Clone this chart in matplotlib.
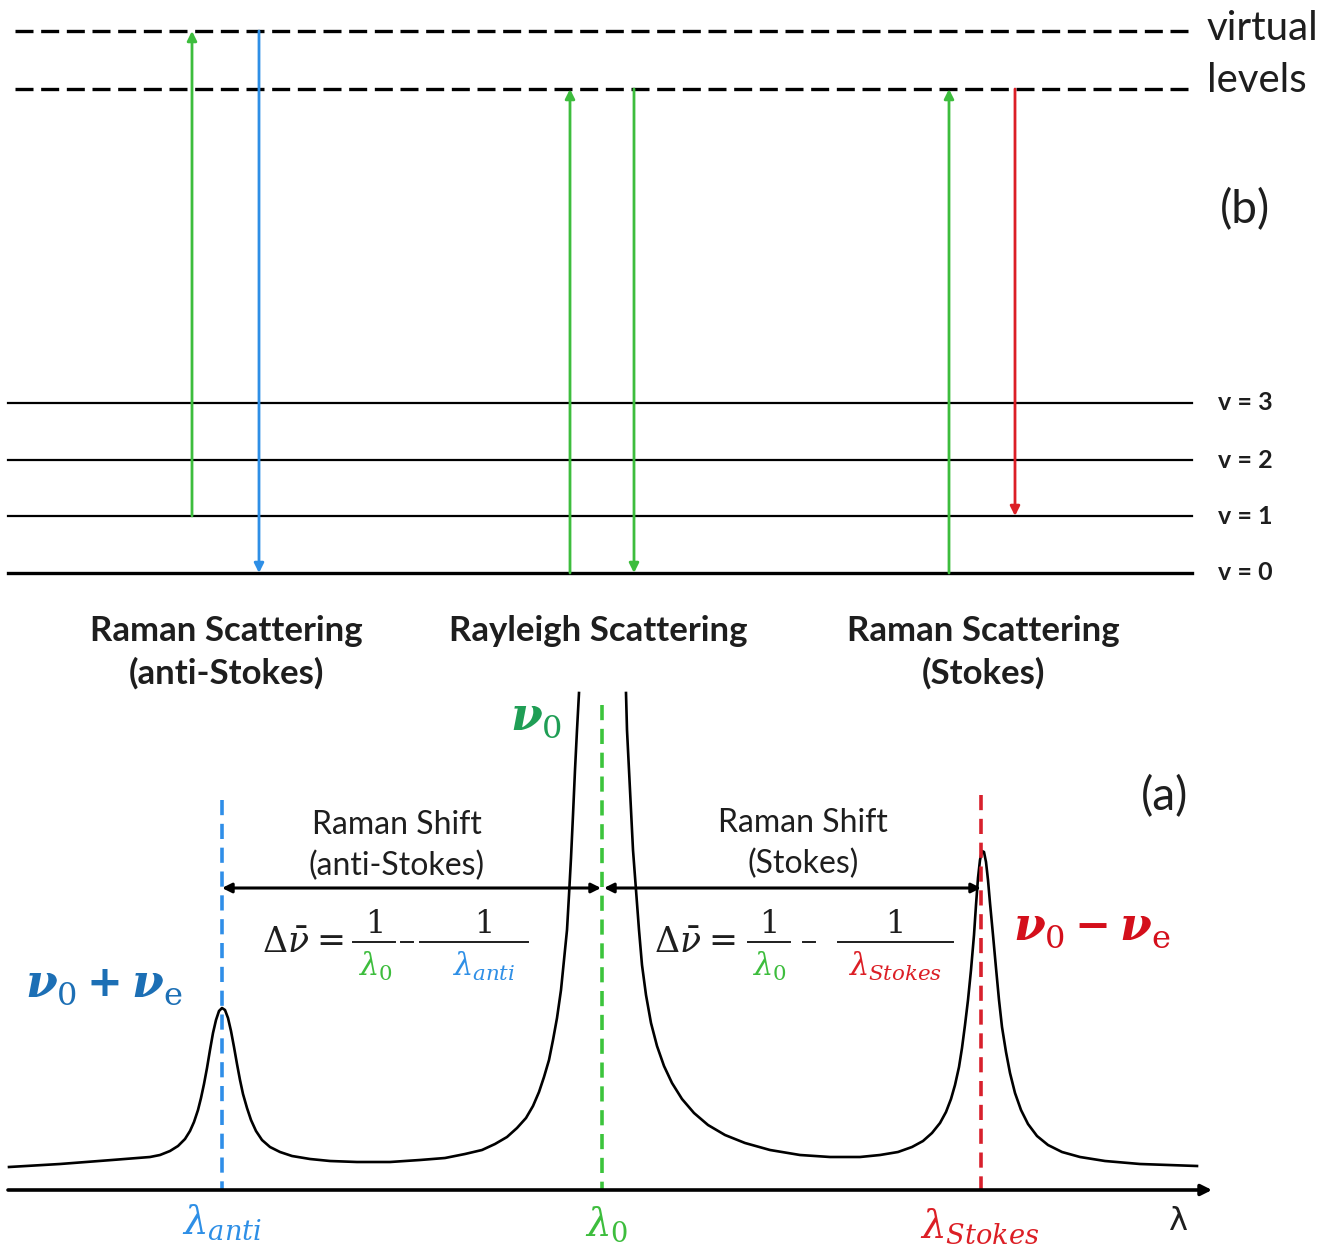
import matplotlib
matplotlib.use("Agg")
import matplotlib.pyplot as plt

# ---------------- data ----------------
virtual_level_y = [31, 89]
virtual_labels = ["virtual", "levels"]
vib_labels = ["v = 0", "v = 1", "v = 2", "v = 3"]
vib_level_y = [573, 516, 460, 403]

# transitions: (x, y_start, y_end, colour key)
transition_x = [192, 259, 570, 634, 949, 1015]
transition_y0 = [516, 31, 573, 89, 573, 89]
transition_y1 = [31, 573, 89, 573, 89, 516]
transition_col = ["green", "blue", "green", "green", "green", "red"]

scatter_titles = [["Raman Scattering", "(anti-Stokes)"], ["Rayleigh Scattering"],
                  ["Raman Scattering", "(Stokes)"]]
scatter_title_x = [226, 598, 983]

# spectrum curve, left of Rayleigh peak and right of it
spec_left_x = [9, 60, 112, 150, 160, 170, 178, 185, 190, 194, 198, 201, 204, 207, 210, 213, 216,
               219, 222, 225, 228, 231, 234, 237, 240, 243, 247, 251, 256, 262, 270, 280, 292, 310,
               330, 357, 390, 420, 445, 465, 482, 495, 507, 517, 526, 533, 539, 544, 549, 553, 557,
               561, 564, 567, 569, 571, 573, 575, 577, 579]
spec_left_y = [1167, 1164, 1160, 1157, 1155, 1151, 1146, 1139, 1131, 1122, 1110, 1098, 1084, 1068,
               1050, 1033, 1020, 1011, 1008, 1010, 1018, 1031, 1047, 1064, 1080, 1094, 1108, 1120,
               1131, 1140, 1147, 1152, 1156, 1159, 1161, 1162, 1162, 1160, 1158, 1154, 1150, 1144,
               1137, 1128, 1118, 1106, 1092, 1077, 1060, 1040, 1018, 990, 960, 930, 895, 858, 815,
               770, 730, 693]
spec_right_x = [626, 627, 629, 631, 633, 636, 639, 642, 646, 651, 657, 664, 672, 682, 694, 708, 725,
                745, 770, 800, 830, 860, 880, 898, 912, 923, 932, 940, 946, 951, 955, 959, 962, 965,
                968, 971, 974, 976, 978, 980, 982, 984, 986, 988, 990, 993, 996, 999, 1002, 1006,
                1010, 1015, 1021, 1028, 1037, 1048, 1062, 1080, 1105, 1140, 1197]
spec_right_y = [693, 730, 770, 810, 850, 890, 930, 965, 995, 1023, 1046, 1066, 1083, 1099, 1113,
                1125, 1135, 1143, 1150, 1155, 1157, 1157, 1155, 1152, 1147, 1141, 1133, 1123, 1112,
                1099, 1085, 1067, 1048, 1025, 1000, 970, 935, 905, 878, 860, 851, 852, 862, 880,
                903, 935, 968, 1000, 1027, 1052, 1073, 1093, 1110, 1124, 1136, 1145, 1152, 1157,
                1161, 1164, 1166]

peak_x = [222, 602, 981]          # lambda_anti, lambda_0, lambda_Stokes
peak_line_top = [800, 705, 795]
peak_keys = ["blue", "green", "red"]
axis_y = 1190

C = {"green": "#3dbd3d", "blue": "#2e8fe6", "red": "#dc1f26"}
C_dash = {"green": "#3cc43c", "blue": "#2f8ee8", "red": "#d8202c"}
INK = "#1e1e1e"

# ---------------- figure ----------------
plt.rcParams["mathtext.fontset"] = "dejavuserif"
fig = plt.figure(figsize=(13.26, 12.48), dpi=100)
ax = fig.add_axes([0, 0, 1, 1])
ax.set_xlim(0, 1326)
ax.set_ylim(1248, 0)
ax.axis("off")
renderer = fig.canvas.get_renderer()

SANS = ["Lato", "DejaVu Sans"]

# virtual levels
for y, lab in zip(virtual_level_y, virtual_labels):
    ax.plot([15, 1190], [y, y], color="black", lw=2.4, dashes=(5.4, 2.3), solid_capstyle="butt")
    ax.text(1207, y - 2 if lab == "virtual" else y - 8, lab, fontsize=29, family=SANS,
            va="center", ha="left", color=INK)

# vibrational levels
for lab, y in zip(vib_labels, vib_level_y):
    ax.plot([8, 1192], [y, y], color="black", lw=2.4 if lab == "v = 0" else 1.6)
    ax.text(1218, y, lab, fontsize=18, family=SANS, weight="bold", va="center", ha="left",
            color=INK)

# transitions
for x, y0, y1, ck in zip(transition_x, transition_y0, transition_y1, transition_col):
    ax.annotate("", xy=(x, y1), xytext=(x, y0),
                arrowprops=dict(arrowstyle="-|>", color=C[ck], lw=2.0, mutation_scale=14,
                                shrinkA=0, shrinkB=0))

ax.text(1245, 210, "(b)", fontsize=33, family=SANS, ha="center", va="center", color=INK)

for lines, x in zip(scatter_titles, scatter_title_x):
    for i, t in enumerate(lines):
        ax.text(x, 631 + 42 * i, t, fontsize=25, family=SANS, weight="bold", ha="center",
                va="center", color=INK)

# ---------------- spectrum ----------------
ax.plot(spec_left_x, spec_left_y, color="black", lw=1.9, solid_joinstyle="round")
ax.plot(spec_right_x, spec_right_y, color="black", lw=1.9, solid_joinstyle="round")

for x, ytop, ck in zip(peak_x, peak_line_top, peak_keys):
    ax.plot([x, x], [ytop, axis_y], color=C_dash[ck], lw=2.6, dashes=(4.2, 2.4))

# wavelength axis
ax.annotate("", xy=(1212, axis_y), xytext=(8, axis_y),
            arrowprops=dict(arrowstyle="-|>", color="black", lw=2.6, mutation_scale=16,
                            shrinkA=0, shrinkB=0))
ax.text(1178, 1222, "λ", fontsize=23, family=["DejaVu Sans"], ha="center", va="center",
        color=INK)

# Raman shift double arrows
ax.annotate("", xy=(601, 888), xytext=(222, 888),
            arrowprops=dict(arrowstyle="<|-|>", color="black", lw=2.2, mutation_scale=14,
                            shrinkA=0, shrinkB=0))
ax.annotate("", xy=(981, 888), xytext=(604, 888),
            arrowprops=dict(arrowstyle="<|-|>", color="black", lw=2.2, mutation_scale=14,
                            shrinkA=0, shrinkB=0))
ax.text(397, 825, "Raman Shift", fontsize=23, family=SANS, ha="center", va="center", color=INK)
ax.text(397, 866, "(anti-Stokes)", fontsize=23, family=SANS, ha="center", va="center", color=INK)
ax.text(803, 823, "Raman Shift", fontsize=23, family=SANS, ha="center", va="center", color=INK)
ax.text(803, 864, "(Stokes)", fontsize=23, family=SANS, ha="center", va="center", color=INK)
ax.text(1165, 797, "(a)", fontsize=33, family=SANS, ha="center", va="center", color=INK)

# equations
def equation(x_eq, eq_x, n1x, bar1, mx, n2x, bar2, den2, den2_col):
    ax.text(x_eq, 943, r"$\Delta\bar{\nu}$", fontsize=25, ha="left", va="center", color=INK)
    ax.text(eq_x, 941, "=", fontsize=25, family=["DejaVu Serif"], ha="center", va="center",
            color=INK)
    ax.plot(bar1, [942, 942], color=INK, lw=1.4)
    ax.plot(bar2, [942, 942], color=INK, lw=1.4)
    ax.plot([mx - 6, mx + 6], [942, 942], color=INK, lw=1.4)
    ax.text(n1x, 933, "1", fontsize=23, family=["DejaVu Serif"], ha="center", va="baseline",
            color=INK)
    ax.text(n2x, 933, "1", fontsize=23, family=["DejaVu Serif"], ha="center", va="baseline",
            color=INK)
    ax.text(n1x, 966, r"$\lambda_0$", fontsize=22, ha="center", va="center", color=C["green"])
    ax.text(n2x, 966, den2, fontsize=22, ha="center", va="center", color=den2_col)

equation(262, 331, 375, [353, 395], 407, 484, [420, 528], r"$\lambda_{anti}$", C["blue"])
equation(654, 723, 769, [748, 790], 809, 895, [838, 953], r"$\lambda_{Stokes}$", C["red"])

# wavelength labels under axis
ax.text(222, 1222, r"$\lambda_{anti}$", fontsize=28, ha="center", va="center", color=C["blue"])
ax.text(607, 1224, r"$\lambda_0$", fontsize=28, ha="center", va="center", color=C["green"])
ax.text(980, 1226, r"$\lambda_{Stokes}$", fontsize=28, ha="center", va="center", color=C["red"])

# frequency labels (bold italic nu with upright subscripts)
def nu_label(x, y, pieces, color):
    for txt, kind in pieces:
        if kind == "nu":
            t = ax.text(x, y, txt, fontsize=33, family=["DejaVu Serif"], weight="bold",
                        style="italic", va="baseline", ha="left", color=color)
            gap = 0
        elif kind == "sub":
            t = ax.text(x, y + 8, txt, fontsize=23, family=["DejaVu Serif"], va="baseline",
                        ha="left", color=color)
            gap = 9
        else:
            t = ax.text(x, y - 1, txt, fontsize=31, family=["DejaVu Sans"], weight="bold",
                        va="baseline", ha="left", color=color)
            gap = 9
        bb = t.get_window_extent(renderer)
        x += bb.width + gap

nu_label(510, 730, [("ν", "nu"), ("0", "sub")], "#1f9e55")
nu_label(25, 997, [("ν", "nu"), ("0", "sub"), ("+", "op"), ("ν", "nu"), ("e", "sub")], "#1c6fb5")
nu_label(1013, 940, [("ν", "nu"), ("0", "sub"), ("−", "op"), ("ν", "nu"), ("e", "sub")], "#d40f1b")

fig.savefig("out.png", dpi=100, facecolor="white")
